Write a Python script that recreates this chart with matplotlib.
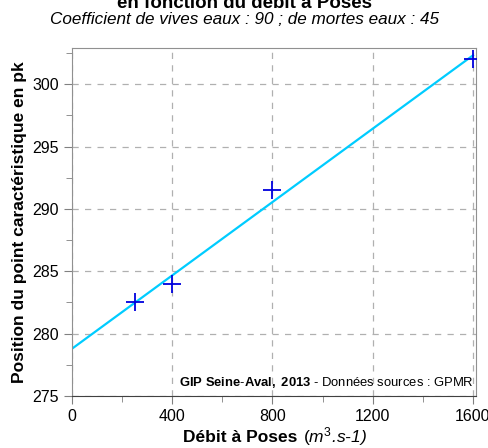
import matplotlib
matplotlib.use("Agg")
import matplotlib.pyplot as plt
import numpy as np
from matplotlib.ticker import MultipleLocator

plt.rcParams['font.family'] = ['Liberation Sans', 'DejaVu Sans']
plt.rcParams['mathtext.fontset'] = 'custom'
plt.rcParams['mathtext.rm'] = 'Liberation Sans'
plt.rcParams['mathtext.it'] = 'Liberation Sans:italic'
plt.rcParams['mathtext.bf'] = 'Liberation Sans:bold'

debit = [250, 400, 800, 1600]
position = [282.5, 284.0, 291.5, 302.0]
xticks = [0, 400, 800, 1200, 1600]
yticks = [275, 280, 285, 290, 295, 300]

fig = plt.figure(figsize=(4.89, 4.48), dpi=100)
ax = fig.add_axes([72/489, 1-396/448, (476-72)/489, (396-48)/448])

slope, intercept = np.polyfit(debit, position, 1)
xl = np.array([0, 1600])
ax.plot(xl, slope*xl + intercept, color='#00ccff', lw=1.6, zorder=2)
ax.plot(debit, position, '+', color='#0000dd', ms=13, mew=1.3, zorder=3)

ax.set_xlim(0, 1612)
ax.set_ylim(275, 302.9)
ax.set_xticks(xticks)
ax.set_yticks(yticks)
ax.xaxis.set_minor_locator(MultipleLocator(200))
ax.yaxis.set_minor_locator(MultipleLocator(2.5))
ax.tick_params(axis='both', which='both', direction='out', colors='#808080',
               labelcolor='black', labelsize=11.5)
ax.tick_params(which='major', length=6)
ax.tick_params(which='minor', length=4)
ax.grid(True, which='major', ls=(0, (5, 5)), color='#b0b0b0', lw=0.9)
for s in ax.spines.values():
    s.set_color('#909090')
ax.spines['bottom'].set_color('#404040')

ax.set_ylabel('Position du point caractéristique en pk', fontsize=12.5,
              fontweight='bold', labelpad=4)

# x label in two pieces (bold + italic unit)
fig.canvas.draw()
r = fig.canvas.get_renderer()
ly = 1 - 437/448
t1 = fig.text(0, ly, 'Débit à Poses ', fontsize=12.5, fontweight='bold', ha='left', va='center')
t2 = fig.text(0, ly, r'$\mathit{(m^{3}}$.s-1)', fontsize=12.5, style='italic', ha='left', va='center')
w1 = t1.get_window_extent(r).width
w2 = t2.get_window_extent(r).width
cx = 275
x0 = cx - (w1 + w2) / 2
t1.set_x(x0 / 489)
t2.set_x((x0 + w1) / 489)

fig.text(0.5, 1-4/448, 'en fonction du débit à Poses', ha='center', va='center',
         fontsize=13.5, fontweight='bold')
fig.text(0.5, 1-19/448, 'Coefficient de vives eaux : 90 ; de mortes eaux : 45', ha='center',
         va='center', fontsize=12.3, style='italic')

ax.text(0.995, 0.04, r'$\mathbf{GIP\ Seine\text{-}Aval,\ 2013}$ - Données sources : GPMR',
        transform=ax.transAxes, fontsize=9.4, ha='right', va='center')

fig.savefig('out.png', dpi=100)
